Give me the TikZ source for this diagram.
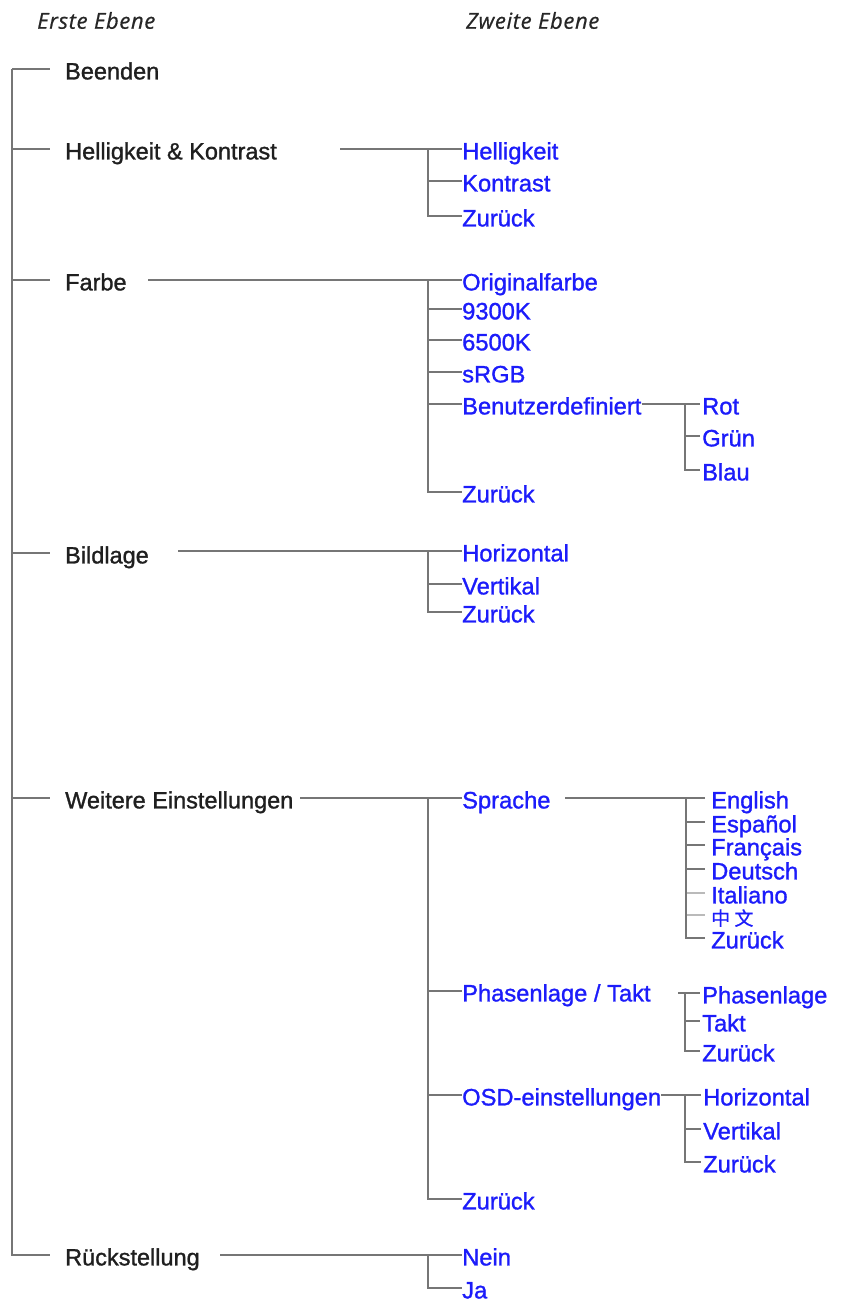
\documentclass[tikz,border=0pt]{standalone}
\usepackage{fontspec}
\setmainfont{Liberation Sans}
\newfontfamily\menufont{Liberation Sans}[FakeBold=1.2]
\newfontfamily\cjk{Noto Sans CJK SC}[FakeBold=0.6]
\newfontfamily\headfont{Open Sans}[LetterSpace=3, FakeBold=0.6]
\usetikzlibrary{positioning}
\definecolor{menublue}{RGB}{28,28,250}
\definecolor{linegray}{RGB}{118,118,118}

\begin{document}
\begin{tikzpicture}[
      x=1pt, y=-1pt,
      nodes={inner sep=0pt, anchor=west, text height=20.8pt, text depth=0pt},
      first/.style={font=\menufont\fontsize{23.5}{27}\selectfont, text=black!88},
      second/.style={font=\menufont\fontsize{23.7}{27}\selectfont, text=menublue},
      head/.style={font=\headfont\itshape\fontsize{22}{26}\selectfont,
        text=black!85, text height=15.5pt},
      link/.style={draw=linegray, line width=1.4pt},
      on grid
      ]

  \useasboundingbox (0,0) rectangle (842,1305);

	  \node[head] (h1) at (37,21) {Erste Ebene};
	  \node[head] (h2) at (466,21) {Zweite Ebene};

  % first level
	  \coordinate (root) at (12,69);
	  \node[first] (m1) at (65,69)   {Beenden};
	  \node[first] (m2) at (65,149)  {Helligkeit \& Kontrast};
	  \node[first] (m3) at (65,280)  {Farbe};
	  \node[first] (m4) at (65,553)  {Bildlage};
	  \node[first] (m5) at (65,798)  {Weitere Einstellungen};
	  \node[first] (m6) at (65,1255) {Rückstellung};

  % second level
	  \node[second] (hk1) at (462,149) {Helligkeit};
	  \node[second, below=32pt of hk1.west, anchor=west] (hk2) {Kontrast};
	  \node[second, below=35pt of hk2.west, anchor=west] (hk3) {Zurück};

	  \node[second] (fb1) at (462,280) {Originalfarbe};
	  \node[second, below=29pt of fb1.west, anchor=west] (fb2) {9300K};
	  \node[second, below=31pt of fb2.west, anchor=west] (fb3) {6500K};
	  \node[second, below=32pt of fb3.west, anchor=west] (fb4) {sRGB};
	  \node[second, below=32pt of fb4.west, anchor=west] (fb5) {Benutzerdefiniert};
	  \node[second, below=88pt of fb5.west, anchor=west] (fb6) {Zurück};

	  \node[second] (bl1) at (462,551) {Horizontal};
	  \node[second, below=33pt of bl1.west, anchor=west] (bl2) {Vertikal};
	  \node[second, below=28pt of bl2.west, anchor=west] (bl3) {Zurück};

	  \node[second] (we1) at (462,798) {Sprache};
	  \node[second, below=193pt of we1.west, anchor=west] (we2) {Phasenlage / Takt};
	  \node[second, below=104pt of we2.west, anchor=west] (we3) {OSD-einstellungen};
	  \node[second, below=104pt of we3.west, anchor=west] (we4) {Zurück};

	  \node[second] (rs1) at (462,1255) {Nein};
	  \node[second, below=33pt of rs1.west, anchor=west] (rs2) {Ja};

  % third level
	  \node[second] (bd1) at (702,404) {Rot};
	  \node[second, below=32pt of bd1.west, anchor=west] (bd2) {Grün};
	  \node[second, below=34pt of bd2.west, anchor=west] (bd3) {Blau};

	  \node[second] (sp1) at (711,798) {English};
	  \node[second, below=24pt of sp1.west, anchor=west] (sp2) {Español};
	  \node[second, below=23pt of sp2.west, anchor=west] (sp3) {Français};
	  \node[second, below=24pt of sp3.west, anchor=west] (sp4) {Deutsch};
	  \node[second, below=24pt of sp4.west, anchor=west] (sp5) {Italiano};
	  \node[second, font=\cjk\fontsize{19}{23}\selectfont, below=22pt of sp5.west, anchor=west] (sp6) {中 文};
	  \node[second, below=23pt of sp6.west, anchor=west] (sp7) {Zurück};

	  \node[second] (pt1) at (702,993) {Phasenlage};
	  \node[second, below=28pt of pt1.west, anchor=west] (pt2) {Takt};
	  \node[second, below=30pt of pt2.west, anchor=west] (pt3) {Zurück};

	  \node[second] (os1) at (703,1095) {Horizontal};
	  \node[second, below=34pt of os1.west, anchor=west] (os2) {Vertikal};
	  \node[second, below=33pt of os2.west, anchor=west] (os3) {Zurück};

  % branch points
	  \coordinate (hk-o) at (340,149);   \coordinate (hk-b) at (428,149);
	  \coordinate (fb-o) at (148,280);   \coordinate (fb-b) at (428,280);
	  \coordinate (bl-o) at (178,551);   \coordinate (bl-b) at (428,551);
	  \coordinate (we-o) at (300,798);   \coordinate (we-b) at (428,798);
	  \coordinate (rs-o) at (220,1255);  \coordinate (rs-b) at (428,1255);
	  \coordinate (bd-b) at (685,404);
	  \coordinate (sp-o) at (565,798);   \coordinate (sp-b) at (686,798);
	  \coordinate (pt-o) at (678,993);   \coordinate (pt-b) at (685,993);
	  \coordinate (os-b) at (685,1095);

  % Connect the nodes

  \draw[link, shorten >=15pt] (root) -- (m1.west);
  \foreach \n in {m2,m3,m4,m5,m6}
    \draw[link, shorten >=15pt] (root) |- (\n.west);

  \draw[link] (hk-o) -- (hk1.west);
  \foreach \n in {hk2,hk3} \draw[link] (hk-b) |- (\n.west);
  \draw[link] (fb-o) -- (fb1.west);
  \foreach \n in {fb2,fb3,fb4,fb5,fb6} \draw[link] (fb-b) |- (\n.west);
  \draw[link] (bl-o) -- (bl1.west);
  \foreach \n in {bl2,bl3} \draw[link] (bl-b) |- (\n.west);
  \draw[link] (we-o) -- (we1.west);
  \foreach \n in {we2,we3,we4} \draw[link] (we-b) |- (\n.west);
  \draw[link] (rs-o) -- (rs1.west);
  \draw[link] (rs-b) |- (rs2.west);

  \draw[link, shorten >=2pt] (fb5.east) -- (bd1.west);
  \foreach \n in {bd2,bd3} \draw[link, shorten >=2pt] (bd-b) |- (\n.west);
  \draw[link, shorten >=6pt] (sp-o) -- (sp1.west);
  \foreach \n in {sp2,sp3,sp4,sp7} \draw[link, shorten >=6pt] (sp-b) |- (\n.west);
  \foreach \n in {sp5,sp6} \draw[link, draw=linegray!50, shorten >=6pt] (sp-b) |- (\n.west);
  \draw[link] (sp-b) -- (sp-b |- sp7.west);
  \draw[link, shorten >=2pt] (pt-o) -- (pt1.west);
  \foreach \n in {pt2,pt3} \draw[link, shorten >=2pt] (pt-b) |- (\n.west);
  \draw[link, shorten >=2pt] (we3.east) -- (os1.west);
  \foreach \n in {os2,os3} \draw[link, shorten >=2pt] (os-b) |- (\n.west);

\end{tikzpicture}
\end{document}
